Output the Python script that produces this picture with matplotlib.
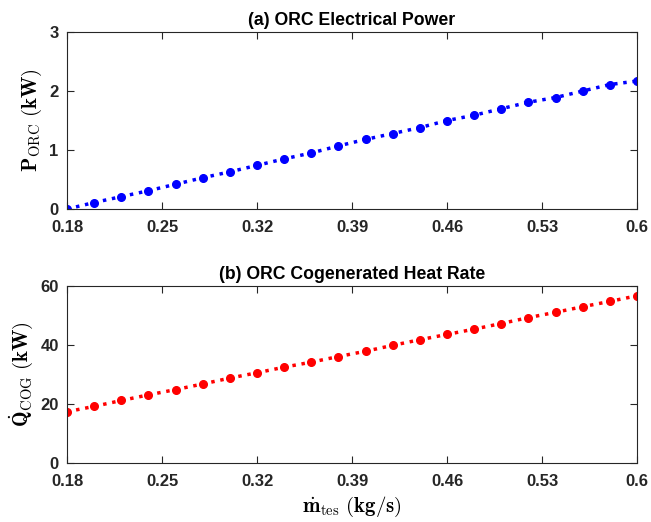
import numpy as np
import matplotlib as mpl
from matplotlib import pyplot as plt

mpl.rcParams['mathtext.fontset'] = 'cm'
mpl.rcParams['font.family'] = ['Liberation Sans', 'DejaVu Sans']

# mass flow of the thermal storage (kg/s)
m_tes = [0.18, 0.20, 0.22, 0.24, 0.26, 0.28, 0.30, 0.32, 0.34, 0.36, 0.38,
         0.40, 0.42, 0.44, 0.46, 0.48, 0.50, 0.52, 0.54, 0.56, 0.58, 0.60]
# ORC electrical power (kW)
p_orc = [0.0, 0.11, 0.21, 0.31, 0.42, 0.53, 0.63, 0.74, 0.85, 0.95, 1.07,
         1.18, 1.28, 1.38, 1.50, 1.59, 1.70, 1.81, 1.89, 2.00, 2.11, 2.17]
# cogenerated heat rate (kW)
q_cog = [17.4, 19.2, 21.2, 23.1, 24.9, 26.8, 28.8, 30.6, 32.5, 34.2, 36.1,
         37.9, 39.9, 41.8, 43.6, 45.4, 47.3, 49.3, 51.1, 53.0, 54.8, 56.7]

x_ticks = [0.18, 0.25, 0.32, 0.39, 0.46, 0.53, 0.6]
x_ticklabels = ['0.18', '0.25', '0.32', '0.39', '0.46', '0.53', '0.6']

fig = plt.figure(figsize=(6.51, 5.22), dpi=100)
ax1 = fig.add_axes([0.103, 0.5996, 0.8755, 0.339])
ax2 = fig.add_axes([0.103, 0.1130, 0.8755, 0.339])

def style(ax, yticks, ylim, title, ylabel):
    ax.set_xlim(0.18, 0.6)
    ax.set_ylim(*ylim)
    ax.set_xticks(x_ticks)
    ax.set_xticklabels(x_ticklabels)
    ax.set_yticks(yticks)
    ax.tick_params(direction='in', top=True, right=True, length=5, width=0.8,
                   color='#262626', labelsize=12, labelcolor='#262626')
    ax.tick_params(axis='x', pad=8)
    ax.tick_params(axis='y', pad=6)
    for lab in ax.get_xticklabels() + ax.get_yticklabels():
        lab.set_fontweight('bold')
    for s in ax.spines.values():
        s.set_color('#262626')
        s.set_linewidth(0.8)
    ax.set_title(title, fontsize=12.7, fontweight='bold', pad=5)
    ax.set_ylabel(ylabel, fontsize=15, labelpad=4)

ax1.plot(m_tes, p_orc, ':', color='blue', lw=2.5, marker='o', ms=5.5)
style(ax1, [0, 1, 2, 3], (0, 3), '(a) ORC Electrical Power',
      r'$\mathbf{P}_{\mathrm{ORC}}\ \mathbf{(kW)}$')

ax2.plot(m_tes, q_cog, ':', color='red', lw=2.5, marker='o', ms=5.5)
style(ax2, [0, 20, 40, 60], (0, 60), '(b) ORC Cogenerated Heat Rate',
      r'$\dot{\mathbf{Q}}_{\mathrm{COG}}\ \mathbf{(kW)}$')
ax2.set_xlabel(r'$\dot{\mathbf{m}}_{\mathrm{tes}}\ \mathbf{(kg/s)}$', fontsize=15, labelpad=4)

fig.savefig('out.png', dpi=100)
